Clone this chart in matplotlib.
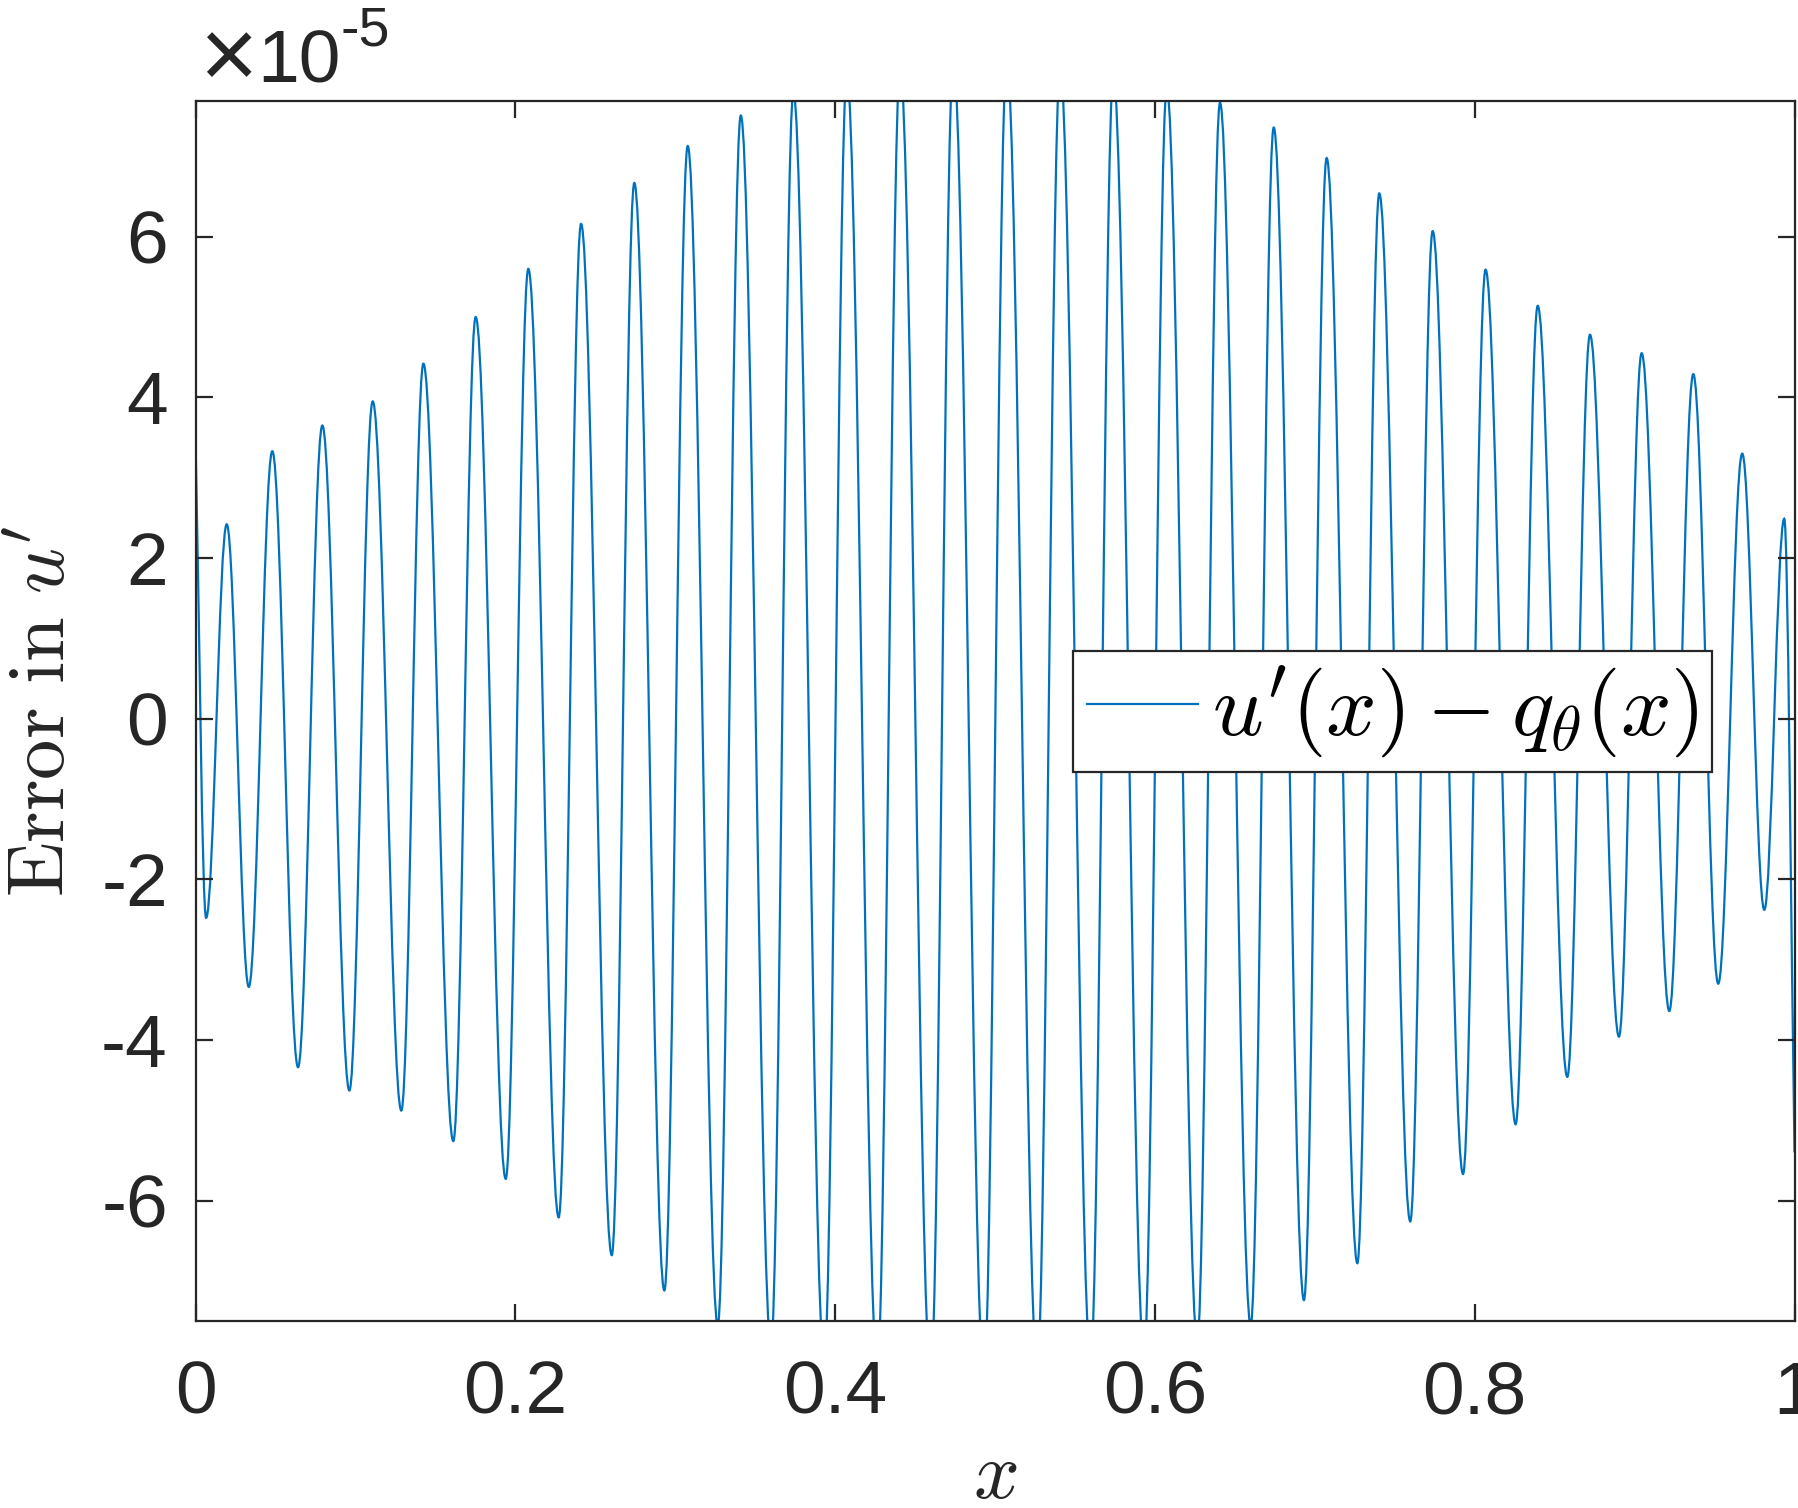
import matplotlib
matplotlib.use("Agg")
import matplotlib.pyplot as plt
from matplotlib.path import Path
from matplotlib.patches import PathPatch
from matplotlib.lines import Line2D

plt.rcParams["mathtext.fontset"] = "cm"
plt.rcParams["axes.unicode_minus"] = False
plt.rcParams["font.family"] = "Liberation Sans"

# turning points of the error curve (y in units of 1e-5)
x_pts = [0.0, 0.0066, 0.0195, 0.0333, 0.0480, 0.0641, 0.0793, 0.0962, 0.1108, 0.1287,
         0.1425, 0.1612, 0.1752, 0.1940, 0.2081, 0.2271, 0.2411, 0.2603, 0.2744, 0.2932,
         0.3078, 0.3266, 0.3410, 0.3599, 0.3739, 0.3932, 0.4073, 0.4264, 0.4406, 0.4598,
         0.4739, 0.4931, 0.5073, 0.5264, 0.5407, 0.5598, 0.5740, 0.5932, 0.6074, 0.6265,
         0.6407, 0.6599, 0.6743, 0.6932, 0.7074, 0.7266, 0.7403, 0.7597, 0.7737, 0.7927,
         0.8068, 0.8256, 0.8394, 0.8579, 0.8721, 0.8902, 0.9044, 0.9217, 0.9367, 0.9523,
         0.9673, 0.9811, 0.9936, 1.0]
err_pts = [3.45, -2.48, 2.42, -3.34, 3.33, -4.34, 3.65, -4.63, 3.95, -4.88,
           4.42, -5.26, 5.00, -5.73, 5.60, -6.21, 6.16, -6.68, 6.67, -7.12,
           7.13, -7.55, 7.51, -7.8, 7.8, -8.0, 8.0, -8.1, 8.1, -8.2,
           8.2, -8.2, 8.2, -8.1, 8.1, -8.0, 8.0, -7.9, 7.85, -7.75,
           7.67, -7.55, 7.36, -7.24, 6.98, -6.78, 6.54, -6.26, 6.07, -5.67,
           5.59, -5.05, 5.14, -4.46, 4.78, -3.96, 4.55, -3.64, 4.29, -3.30,
           3.30, -2.38, 2.49, -5.4]

xticks = [0, 0.2, 0.4, 0.6, 0.8, 1]
xticklabels = ["0", "0.2", "0.4", "0.6", "0.8", "1"]
yticks = [-6, -4, -2, 0, 2, 4, 6]
legend_label = r"$u'(x)-q_\theta(x)$"

blue = "#0072BD"
dark = "#262626"

fig = plt.figure(figsize=(8.995, 7.54), dpi=200)
ax = fig.add_axes([0.1087, 0.124, 0.8888, 0.809])

# smooth curve through the turning points (horizontal tangent at each extremum)
k = 0.364
n = len(x_pts)
verts = [(x_pts[0], err_pts[0])]
codes = [Path.MOVETO]
for i in range(n - 1):
    x0, y0 = x_pts[i], err_pts[i]
    x1, y1 = x_pts[i + 1], err_pts[i + 1]
    dx = x1 - x0
    if i == 0:
        c1 = (x0 + dx / 3, y0 + (y1 - y0) / 3)
    else:
        c1 = (x0 + k * dx, y0)
    if i + 1 == n - 1:
        c2 = (x1 - dx / 3, y1 - (y1 - y0) / 3)
    else:
        c2 = (x1 - k * dx, y1)
    verts += [c1, c2, (x1, y1)]
    codes += [Path.CURVE4] * 3

curve = PathPatch(Path(verts, codes), facecolor="none", edgecolor=blue,
                  lw=0.8, transform=ax.transData)
ax.add_patch(curve)

ax.set_xlim(0, 1)
ax.set_ylim(-7.5, 7.69)
ax.set_xticks(xticks)
ax.set_xticklabels(xticklabels)
ax.set_yticks(yticks)
ax.tick_params(direction="in", length=6, width=0.8, colors=dark, labelsize=27,
               top=True, right=True)
ax.tick_params(axis="x", pad=14)
ax.tick_params(axis="y", pad=10)
for s in ax.spines.values():
    s.set_linewidth(0.8)
    s.set_color(dark)

ax.set_xlabel(r"$x$", fontsize=29, color=dark, labelpad=3.5)
ax.set_ylabel(r"$\mathrm{Error\ in}\ u'$", fontsize=29, color=dark, labelpad=7)

# exponent label above the y axis
fig.text(0.1106, 0.9589, "×", fontsize=36, color=dark, va="center")
fig.text(0.1429, 0.9456, "10", fontsize=27, color=dark, va="baseline")
fig.text(0.189, 0.970, "-5", fontsize=20, color=dark, va="baseline")

handle = Line2D([], [], color=blue, lw=0.8)
leg = ax.legend([handle], [legend_label], loc="upper left",
                bbox_to_anchor=(0.549, 0.549), fontsize=32, fancybox=False,
                framealpha=1, edgecolor=dark, borderaxespad=0, borderpad=0.15,
                handlelength=1.25, handletextpad=0.16)
leg.get_frame().set_linewidth(0.8)

fig.savefig("out.png", dpi=200)
